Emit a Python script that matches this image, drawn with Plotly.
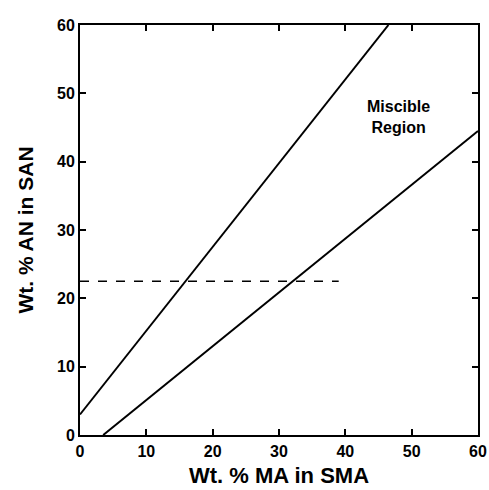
import plotly.graph_objects as go

# Boundary lines (Wt.% MA in SMA, Wt.% AN in SAN)
upper_x = [0, 46.5]
upper_y = [3.0, 60.0]
lower_x = [3.5, 60]
lower_y = [0.0, 44.5]
dash_x = [0, 39]
dash_y = [22.5, 22.5]
x_ticks = [0, 10, 20, 30, 40, 50, 60]
y_ticks = [0, 10, 20, 30, 40, 50, 60]

FONT = "Liberation Sans, Arial, Helvetica"

fig = go.Figure()
fig.add_trace(go.Scatter(x=upper_x, y=upper_y, mode="lines",
                         line=dict(color="black", width=2), showlegend=False))
fig.add_trace(go.Scatter(x=lower_x, y=lower_y, mode="lines",
                         line=dict(color="black", width=2), showlegend=False))
fig.add_trace(go.Scatter(x=dash_x, y=dash_y, mode="lines",
                         line=dict(color="black", width=1.3, dash="dash"), showlegend=False))

fig.add_annotation(x=48, y=46.5, text="Miscible<br>Region", showarrow=False,
                   font=dict(family=FONT, size=16, color="black", weight="bold"))

# x-axis title placed just below the tick labels
fig.add_annotation(x=0.5, xref="paper", y=-0.098, yref="paper", yanchor="middle",
                   text="Wt. % MA in SMA", showarrow=False,
                   font=dict(family=FONT, size=22, color="black", weight="bold"))

axis_common = dict(showline=True, linecolor="black", linewidth=2, mirror="ticks",
                   ticks="inside", ticklen=6, tickwidth=1.5, tickcolor="black",
                   showgrid=False, zeroline=False, automargin=False,
                   ticklabeloverflow="allow",
                   tickfont=dict(family=FONT, size=16, color="black", weight="bold"))

fig.update_xaxes(range=[0, 60], tickvals=x_ticks, ticklabelstandoff=1, **axis_common)
fig.update_yaxes(range=[0, 60], tickvals=y_ticks,
                 title=dict(text="Wt. % AN in SAN", standoff=18,
                            font=dict(family=FONT, size=21, color="black", weight="bold")),
                 **axis_common)

fig.update_layout(width=489, height=490, margin=dict(l=80, r=11, t=25, b=55),
                  plot_bgcolor="white", paper_bgcolor="white")

fig.write_html("out.html")
